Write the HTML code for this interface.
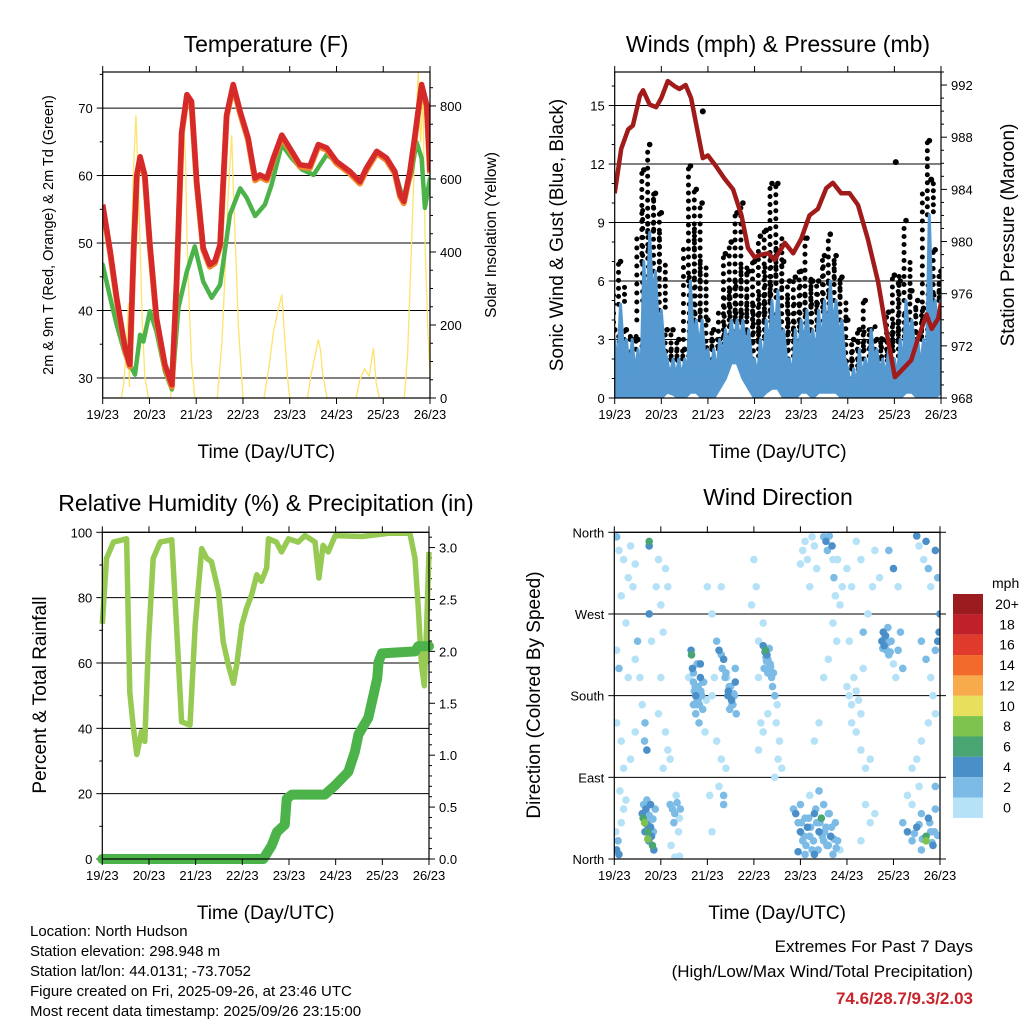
<!DOCTYPE html>
<html><head><meta charset="utf-8"><title>Station Meteogram</title>
<style>
html,body{margin:0;padding:0;background:#fff;}
svg{display:block;font-family:"Liberation Sans",Arial,sans-serif;}
</style></head>
<body>
<svg id="chart" width="1024" height="1024" viewBox="0 0 1024 1024" xmlns="http://www.w3.org/2000/svg">
<rect x="0" y="0" width="1024" height="1024" fill="#fff"/>
<g id="p1"></g>
<g id="p2"></g>
<g id="p3"></g>
<g id="p4"></g>
<g id="legend"></g>
<g font-size="15" fill="#000">
<text x="30" y="936">Location: North Hudson</text>
<text x="30" y="956">Station elevation: 298.948 m</text>
<text x="30" y="976">Station lat/lon: 44.0131; -73.7052</text>
<text x="30" y="996">Figure created on Fri, 2025-09-26, at 23:46 UTC</text>
<text x="30" y="1016">Most recent data timestamp: 2025/09/26 23:15:00</text>
</g>
<g text-anchor="end">
<text x="973" y="952" font-size="17">Extremes For Past 7 Days</text>
<text x="973" y="977" font-size="17">(High/Low/Max Wind/Total Precipitation)</text>
<text x="973" y="1004" font-size="17" font-weight="bold" fill="#c8242b">74.6/28.7/9.3/2.03</text>
</g>
</svg>
<script>
// ---------- DATA ----------
const dayLabels = ["19/23","20/23","21/23","22/23","23/23","24/23","25/23","26/23"];
const tempDays = [0,0.16,0.3,0.48,0.58,0.66,0.73,0.8,0.9,1.01,1.15,1.33,1.48,1.58,1.69,1.8,1.9,2.01,2.15,2.29,2.4,2.51,2.65,2.79,2.94,3.11,3.26,3.36,3.51,3.65,3.83,4.0,4.22,4.43,4.61,4.79,5.0,5.29,5.5,5.64,5.86,6.07,6.25,6.36,6.44,6.57,6.68,6.82,6.93,7.0];
const tempVals = [55.7,48.8,41.9,34.4,32,48.8,60.1,62.8,60.1,49.8,38.9,32,29,44.3,66.5,72,71,59.1,49.3,46.8,47.3,49.8,69,73.5,69.5,65.6,59.6,60.1,59.6,62.6,66,64.1,61.6,61.4,64.6,64.1,62.1,60.6,59.1,61.1,63.6,62.6,60.6,57.2,56.2,60.6,66,73.5,70.5,60.6];
const dewDays = [0,0.16,0.3,0.48,0.58,0.69,0.8,0.87,1.01,1.15,1.33,1.48,1.62,1.8,1.97,2.15,2.33,2.51,2.72,2.94,3.08,3.26,3.47,3.61,3.83,4.04,4.26,4.51,4.65,4.79,5.0,5.29,5.5,5.64,5.86,6.07,6.25,6.44,6.61,6.71,6.82,6.89,7.0];
const dewVals = [46.8,41.9,37.9,33.5,32,30.5,36.4,35.4,39.9,36.9,31,28.3,40.4,45.8,49.5,44.3,41.9,43.8,54.2,58.1,56.7,54,55.7,58.6,64.6,62.6,60.9,60.1,61.6,63.1,62.1,60.6,59.1,61.1,63.6,62.6,60.6,56.2,60.6,65,62.6,55.2,59.6];
const solarDays = [0,0.4,0.45,0.5,0.55,0.57,0.6,0.65,0.71,0.76,0.8,0.85,0.9,0.98,1.45,1.5,1.55,1.6,1.65,1.72,1.77,1.8,1.85,1.9,1.97,2.45,2.55,2.62,2.68,2.76,2.8,2.85,2.9,3.0,3.45,3.55,3.65,3.75,3.83,3.9,3.95,4.0,4.38,4.45,4.55,4.61,4.66,4.7,4.8,5.42,5.5,5.6,5.7,5.79,5.85,5.92,6.45,6.52,6.6,6.68,6.75,6.8,6.85,6.9,6.95,7.0];
const solarVals = [0,0,40,120,260,30,350,600,775,600,420,200,60,0,0,80,300,500,700,800,650,450,250,100,0,0,150,350,550,720,550,380,200,0,0,80,180,240,283,150,60,0,0,60,120,160,130,70,0,0,50,80,60,137,40,0,0,120,400,700,893,700,820,400,200,60];
const windHi = [3,4.8,3,3,2.5,7,8.5,6.5,4.5,2,2,2,2,6,4,4,2.5,2.5,3,3.5,4,4,4,3.5,2,3,4,5,5.5,3.5,2,3.5,4,4.5,3.5,4.5,5,6,5,4,1.5,1.5,2.5,2,3.5,2.5,2,2.5,2,3,5,4,3,3,9.4,5,5];
const windMid = [1.5,2.5,1.5,1.2,1,4,5,3.5,2.5,1,1,1,1,3,2.5,2,1.2,1.2,2,2.5,2.8,2.8,2.5,2,1,1.5,2.5,3,3,2,1,2,2.5,2.5,2,2.5,3,3.5,3,2,0.5,0.5,1,1,2,1.2,1,1.2,1,1.5,3,2.5,1.5,1.5,4,3,2.5];
const windLo = [0,0,0,0,0,0,0,0,0,0.3,0.2,0,0,0.3,0.3,0,0,0,0.5,1,1.8,1.8,1,0.5,0,0,0.3,0.5,0.5,0,0,0,0.3,0.3,0,0.3,0.3,0.3,0.3,0,0,0,0,0,0,0,0,0,0,0,0.3,0.3,0,0,0,0,0.3];
const gustVals = [3.5,7,3.5,3,3,11.7,13,10.5,9.5,3.5,3.5,3,2.5,11.9,10.7,10,4,3.5,3,7.4,8,9.5,10,6.5,7,8.3,8.6,11,11,7,6,6.2,6.5,8.2,6,6,7.3,8.4,7.3,6.2,4,3,3.5,5,3.5,3,3,4.4,6.3,6,9.1,5.5,5,4.6,13.2,7.6,6.5];
const gustOutDays = [1.89,6.03,6.79];
const gustOutVals = [14.7,12.1,11.2];
const presDays = [0,0.14,0.29,0.39,0.54,0.61,0.75,0.89,1.0,1.14,1.29,1.39,1.52,1.64,1.89,2.0,2.15,2.36,2.54,2.72,2.86,3.0,3.15,3.29,3.43,3.65,3.83,4.0,4.18,4.36,4.54,4.68,4.86,5.04,5.22,5.43,5.65,5.83,6.01,6.15,6.36,6.51,6.69,6.8,6.94,7.0];
const presVals = [983.7,987.1,988.6,988.9,991.2,991.6,990.5,990.3,991.0,992.3,991.9,991.7,992.0,991.0,986.4,986.6,985.9,984.8,984.0,982.0,979.5,978.8,979.0,979.1,978.6,979.9,979.1,980.2,982.0,982.5,984.1,984.5,983.7,983.7,982.8,980.2,976.9,973.1,969.6,970.1,970.9,972.6,974.4,973.3,974.1,975.3];
const rhDays = [0,0.09,0.24,0.52,0.59,0.66,0.74,0.84,0.91,0.99,1.09,1.24,1.49,1.59,1.7,1.88,1.99,2.13,2.24,2.34,2.49,2.59,2.7,2.81,2.88,2.99,3.09,3.2,3.31,3.41,3.52,3.56,3.73,3.84,3.99,4.2,4.34,4.56,4.64,4.73,4.84,4.99,5.56,6.13,6.59,6.7,6.77,6.84,6.9,6.95,7.0];
const rhVals = [72,92,97,98,51,41,32,39,36,66.5,92,97,97.7,71.6,42,41,71.6,95,92,91,81.8,66.5,59.4,53.8,59.4,71.6,76.7,80.8,87,85,89,98,97,94,98,97,99,97,86,96,94,99,98.7,99.7,99.7,92,76.7,59.4,53,71.6,94];
const prDays = [0,3.45,3.63,3.74,3.91,3.95,4.06,4.77,4.99,5.27,5.41,5.49,5.7,5.81,5.89,5.92,5.99,6.7,6.77,7.0];
const prVals = [0,0,0.13,0.26,0.33,0.58,0.62,0.62,0.71,0.84,1.03,1.2,1.36,1.58,1.74,1.9,1.98,2.0,2.05,2.05];
const dirDays = [0.6,0.62,0.65,0.68,0.7,0.72,0.75,0.78,0.8,0.82,0.85,0.63,0.7,0.88,0.72,0.66,0.78,0.84,
1.2,1.25,1.3,1.35,1.4,1.28,1.33,1.38,1.42,1.22,1.3,1.4,
0.05,0.08,0.1,0.15,0.2,0.25,0.03,0.12,
0.05,0.1,0.2,0.3,0.35,0.4,0.45,0.15,0.25,0.05,0.1,0.3,0.45,0.5,0.55,0.6,0.45,0.35,0.2,0.15,0.05,0.65,0.66,0.7,
0.75,0.75,0.75,0.8,0.9,0.95,1.0,1.05,1.1,1.15,1.0,0.95,1.1,1.15,1.05,1.2,
1.65,1.66,1.68,1.7,1.72,1.75,1.78,1.8,1.83,1.85,1.88,1.9,1.92,1.7,1.75,1.82,1.95,1.98,1.6,1.85,
2.2,2.25,2.3,2.35,2.32,2.4,2.45,2.5,2.52,2.55,2.58,2.6,2.62,2.48,2.42,2.15,2.1,2.2,2.3,2.4,2.25,2.35,2.35,2.1,2.05,2.0,2.1,2.3,
3.2,3.25,3.28,3.3,3.35,3.22,3.3,3.38,3.4,3.45,3.5,3.48,3.55,3.52,3.6,3.45,3.3,3.1,3.1,3.2,3.05,3.0,2.95,3.15,3.1,3.2,
3.85,3.9,3.95,4.0,4.05,4.1,4.15,4.2,4.25,4.3,4.35,4.4,4.45,4.5,4.55,4.6,4.65,4.7,4.75,4.8,4.85,4.0,4.2,4.4,4.1,3.95,4.3,4.6,4.5,
4.0,4.05,4.1,4.15,4.2,4.25,4.3,4.35,4.5,4.55,4.58,4.62,4.68,4.7,4.72,4.75,4.8,4.85,4.9,4.7,4.78,4.6,4.5,4.4,4.3,
5.0,5.05,5.1,5.15,5.2,5.25,5.3,5.35,5.1,5.2,5.3,5.4,5.5,5.4,5.5,5.3,5.6,5.0,5.1,5.2,5.3,5.45,5.55,5.6,5.05,5.35,
5.75,5.78,5.8,5.82,5.85,5.88,5.9,5.95,6.0,6.05,6.1,6.15,6.2,5.9,6.0,6.1,5.7,
6.2,6.3,6.4,6.5,6.6,6.7,6.7,6.75,6.8,6.85,6.9,6.6,6.4,6.3,6.55,6.9,
6.5,6.55,6.65,6.7,6.75,6.8,6.9,6.95,7.0,6.98,6.95,6.9,6.6,6.7,6.8,6.85,6.9,6.75,6.6,6.5,6.4,
0.72,0.76,0.8,0.68,0.74,0.83,1.7,1.74,1.78,1.8,1.86,1.9,1.76,2.38,2.44,2.47,2.53,2.57,2.6,3.24,3.27,3.33,3.36,3.42,3.26,
4.02,4.08,4.12,4.18,4.22,4.28,4.33,4.38,4.42,4.47,4.52,4.57,4.62,4.67,4.72,4.77,5.77,5.83,5.87,5.93,6.45,6.55,6.62,6.78,6.83,6.88,6.95];
const dirDegs = [50,45,40,55,38,30,48,35,25,15,10,60,65,55,22,30,60,30,
60,55,50,62,45,40,70,30,55,15,2,3,
10,20,5,40,55,65,30,75,
355,340,330,310,345,300,325,290,260,230,210,200,220,240,200,170,140,110,100,130,150,130,150,120,
350,345,270,240,300,330,280,250,320,300,200,160,140,120,100,110,
230,225,210,195,185,180,175,190,170,200,180,165,195,170,160,150,140,175,200,215,
240,230,225,220,210,205,185,190,175,170,180,195,160,165,200,200,180,130,110,100,80,60,70,30,70,300,270,300,
235,230,225,220,215,210,205,200,190,180,170,150,130,110,100,90,160,240,200,260,300,330,280,150,120,140,
55,50,40,30,20,45,35,25,10,50,40,30,45,20,35,15,25,5,40,20,10,60,70,75,5,8,5,50,60,
325,340,350,330,300,355,345,320,355,350,340,356,345,330,310,290,330,280,300,260,240,220,200,150,130,
190,180,170,200,185,175,160,210,150,140,120,100,110,60,40,20,50,320,300,350,330,270,300,340,240,250,
240,250,235,245,230,255,225,240,215,200,230,250,210,340,320,300,310,
40,30,20,35,50,25,20,45,30,15,55,10,60,70,80,80,
356,345,330,350,320,300,340,310,270,250,240,230,240,220,200,180,160,150,130,110,100,
42,36,28,52,20,44,205,190,215,175,185,195,170,200,180,190,170,182,210,228,218,232,212,205,222,
40,25,15,45,35,20,55,10,40,25,30,15,50,35,22,12,232,246,238,228,28,38,22,40,18,30,26];
const dirSpd = [4,6,8,4,4,6,2,4,4,6,4,2,2,2,8,4,4,2,
2,2,2,2,0,2,0,0,2,0,0,0,
4,2,4,0,0,0,0,0,
2,0,0,0,0,0,0,0,0,0,2,0,0,2,0,0,0,0,0,0,0,2,2,4,
6,4,4,0,0,0,0,0,0,0,0,0,0,0,0,0,
4,6,4,2,2,4,2,2,2,4,2,2,2,2,2,2,0,0,0,4,
2,4,2,4,2,2,4,2,4,2,2,4,2,2,0,0,0,0,0,0,0,2,2,0,0,0,0,0,
4,6,4,2,2,2,2,2,2,2,0,0,0,0,0,0,0,0,0,0,0,0,0,0,0,0,
2,4,2,4,2,2,4,2,2,4,2,4,6,2,2,2,4,2,2,2,0,2,0,2,2,4,4,2,2,
0,0,0,0,0,0,0,0,2,4,2,2,4,0,2,0,0,0,0,0,0,0,0,0,0,
0,0,0,0,0,0,0,0,0,0,0,0,0,0,0,0,0,0,0,0,0,0,0,0,0,2,
4,4,4,2,2,2,2,2,0,0,2,2,2,2,4,0,0,
2,4,2,4,2,6,8,4,2,4,2,2,0,0,0,2,
4,0,0,4,2,0,4,2,4,4,4,2,2,2,0,0,0,0,0,0,0,
2,2,2,2,4,2,2,2,2,2,2,2,2,2,4,2,2,2,2,4,2,2,2,2,2,
2,2,2,2,2,2,2,2,2,2,2,2,2,2,2,2,2,4,2,2,2,2,2,2,2,2,2];
const legendLabels = ["20+","18","16","14","12","10","8","6","4","2","0"];
const legendColors = ["#9b1b1f","#c0202a","#e03a2c","#f26a2c","#f7ab4a","#e8e05c","#7ec34e","#49a673","#4b8fc8","#7bbbe6","#b6e2f7"];
const speedClasses = [20,18,16,14,12,10,8,6,4,2,0];

// ---------- HELPERS ----------
const NS="http://www.w3.org/2000/svg";
function mk(parent,tag,attrs,text){const e=document.createElementNS(NS,tag);for(const k in attrs)e.setAttribute(k,attrs[k]);if(text!==undefined)e.textContent=text;parent.appendChild(e);return e;}
function lin(d0,d1,r0,r1){return v=>r0+(v-d0)*(r1-r0)/(d1-d0);}
function pts(xs,ys,sx,sy){return xs.map((d,i)=>sx(d).toFixed(1)+","+sy(ys[i]).toFixed(1)).join(" ");}

function frame(g,B,sx,xlabelY){
  dayLabels.forEach((lab,i)=>{
    const x=sx(i);
    const t1=mk(g,"line",{x1:x,y1:B.y1,x2:x,y2:B.y1+6,stroke:"#000","stroke-width":1});
    
    
    const t2=mk(g,"line",{x1:x,y1:B.y0,x2:x,y2:B.y0-6,stroke:"#000","stroke-width":1});
    
    
    const tl=mk(g,"text",{x:x,y:B.y1+21,"font-size":13,"text-anchor":"middle"},lab);
    
    
  });
  const xt=mk(g,"text",{x:(B.x0+B.x1)/2,y:xlabelY,"font-size":19,"text-anchor":"middle"},"Time (Day/UTC)");
  
  
}
function box(g,B){
  const r=mk(g,"rect",{x:B.x0,y:B.y0,width:B.x1-B.x0,height:B.y1-B.y0,fill:"none",stroke:"#000","stroke-width":1.2});
  
  
}
function yAxis(g,B,sy,ticks,labels,side,minor,grid){
  ticks.forEach((v,i)=>{
    const y=sy(v);
    if(grid){const gl=mk(g,"line",{x1:B.x0,y1:y,x2:B.x1,y2:y,stroke:"#000","stroke-width":1});
      
      }
    const x=side==="left"?B.x0:B.x1;
    const dx=side==="left"?-6:6;
    const tk=mk(g,"line",{x1:x,y1:y,x2:x+dx,y2:y,stroke:"#000","stroke-width":1});
    
    
    const tl=mk(g,"text",{x:side==="left"?x-10:x+10,y:y+5,"font-size":13,"text-anchor":side==="left"?"end":"start"},labels[i]);
    
    
  });
  (minor||[]).forEach(v=>{
    const y=sy(v);const x=side==="left"?B.x0:B.x1;const dx=side==="left"?-3:3;
    const mt=mk(g,"line",{x1:x,y1:y,x2:x+dx,y2:y,stroke:"#000","stroke-width":1});
    
    
  });
}
function title(g,x,y,txt,size){const t=mk(g,"text",{x:x,y:y,"font-size":size,"text-anchor":"middle"},txt);
  
  return t;}
function vtitle(g,x,y,txt,size,name){const t=mk(g,"text",{x:x,y:y,"font-size":size,"text-anchor":"middle",transform:`rotate(-90 ${x} ${y})`},txt);
  
  return t;}
function range(a,b,s){const r=[];for(let v=a;v<=b+1e-9;v+=s)r.push(+v.toFixed(4));return r;}

// ---------- PANEL 1 ----------
(function(){
  const g=document.getElementById("p1");
  const B={x0:102.7,x1:430,y0:72,y1:398};
  const sx=lin(0,7,B.x0,B.x1), sy=lin(27.03,75.35,B.y1,B.y0), sy2=lin(0,893,B.y1,B.y0);
  const cp=mk(g,"clipPath",{id:"c1"});mk(cp,"rect",{x:B.x0,y:B.y0,width:B.x1-B.x0,height:B.y1-B.y0});
  yAxis(g,B,sy,[30,40,50,60,70],["30","40","50","60","70"],"left",range(35,75,10),true);
  yAxis(g,B,sy2,[0,200,400,600,800],["0","200","400","600","800"],"right",range(50,850,50).filter(v=>v%200),false);
  const pg=mk(g,"g",{"clip-path":"url(#c1)"});
  const sol=mk(pg,"polyline",{points:pts(solarDays,solarVals,sx,sy2),fill:"none",stroke:"#fde36a","stroke-width":1.3});
  
  
  const dw=mk(pg,"polyline",{points:pts(dewDays,dewVals,sx,sy),fill:"none",stroke:"#4bb34a","stroke-width":4.5,"stroke-linejoin":"round","stroke-linecap":"round"});
  
  
  const t9=mk(pg,"polyline",{points:pts(tempDays,tempVals,sx,sy),fill:"none",stroke:"#f08a2c","stroke-width":6,"stroke-linejoin":"round",transform:"translate(0,2)"});
  
  
  const t2=mk(pg,"polyline",{points:pts(tempDays,tempVals,sx,sy),fill:"none",stroke:"#d62a2a","stroke-width":5.5,"stroke-linejoin":"round"});
  
  
  box(g,B);
  frame(g,B,sx,458);
  title(g,266,52,"Temperature (F)",23);
  vtitle(g,53,235,"2m & 9m T (Red, Orange) & 2m Td (Green)",14.5,'y-axis-title');
  vtitle(g,496,235,"Solar Insolation (Yellow)",15.5,'y2-axis-title');
})();

// ---------- PANEL 2 ----------
(function(){
  const g=document.getElementById("p2");
  const B={x0:614.7,x1:941,y0:72,y1:398};
  const sx=lin(0,7,B.x0,B.x1), sy=lin(0,16.72,B.y1,B.y0), sy2=lin(968,993,B.y1,B.y0);
  const cp=mk(g,"clipPath",{id:"c2"});mk(cp,"rect",{x:B.x0,y:B.y0-4,width:B.x1-B.x0,height:B.y1-B.y0+4});
  yAxis(g,B,sy,[0,3,6,9,12,15],["0","3","6","9","12","15"],"left",range(1,16,1).filter(v=>v%3),true);
  yAxis(g,B,sy2,[968,972,976,980,984,988,992],["968","972","976","980","984","988","992"],"right",range(969,993,1).filter(v=>v%4),false);
  const pg=mk(g,"g",{"clip-path":"url(#c2)"});
  const n=windHi.length; const days=windHi.map((_,i)=>i*7/(n-1));
  gustVals.forEach((gv,i)=>{
    const x=sx(days[i]);
    const c=mk(pg,"line",{x1:x-2,y1:sy(windHi[i]),x2:x-2,y2:sy(gv),stroke:"#000","stroke-width":5,"stroke-linecap":"round","stroke-dasharray":"0 8"});
    
    
    const c2=mk(pg,"line",{x1:x+4,y1:sy(windHi[i])-3,x2:x+4,y2:sy((gv+windHi[i])/2),stroke:"#000","stroke-width":5,"stroke-linecap":"round","stroke-dasharray":"0 7"});
    
    
    const c3=mk(pg,"line",{x1:x-7,y1:sy(windMid[i]),x2:x-7,y2:sy((gv+2*windHi[i])/3),stroke:"#000","stroke-width":5,"stroke-linecap":"round","stroke-dasharray":"0 9"});
    
    
    const d=mk(pg,"circle",{cx:x,cy:sy(gv),r:2.8,fill:"#000"});
    
    
  });
  gustOutDays.forEach((d,i)=>{
    const c=mk(pg,"circle",{cx:sx(d),cy:sy(gustOutVals[i]),r:3,fill:"#000"});
    
    
  });
  // jagged wind trace alternating between hi and mid
  const jx=[],jy=[];
  days.forEach((d,i)=>{jx.push(d);jy.push(windHi[i]);if(i<n-1){jx.push(d+7/(n-1)/2);jy.push(windMid[i]);}});
  const up=pts(jx,jy,sx,sy);
  const dn=days.map((d,i)=>sx(d).toFixed(1)+","+sy(windLo[i]).toFixed(1)).reverse().join(" ");
  const band=mk(pg,"polygon",{points:up+" "+dn,fill:"#5599d0",stroke:"#5599d0","stroke-width":3,"stroke-linejoin":"round"});
  
  
  const pr=mk(pg,"polyline",{points:pts(presDays,presVals,sx,sy2),fill:"none",stroke:"#a11b1b","stroke-width":4.5,"stroke-linejoin":"round"});
  
  
  box(g,B);
  frame(g,B,sx,458);
  title(g,778,52,"Winds (mph) & Pressure (mb)",23);
  vtitle(g,563,235,"Sonic Wind & Gust (Blue, Black)",19,'y-axis-title');
  vtitle(g,1014,235,"Station Pressure (Maroon)",19,'y2-axis-title');
})();

// ---------- PANEL 3 ----------
(function(){
  const g=document.getElementById("p3");
  const B={x0:102.3,x1:429,y0:532.3,y1:859};
  const sx=lin(0,7,B.x0,B.x1), sy=lin(0,100,B.y1,B.y0), sy2=lin(0,3.147,B.y1,B.y0);
  const cp=mk(g,"clipPath",{id:"c3"});mk(cp,"rect",{x:B.x0-6,y:B.y0,width:B.x1-B.x0+12,height:B.y1-B.y0+6});
  yAxis(g,B,sy,[0,20,40,60,80,100],["0","20","40","60","80","100"],"left",range(10,90,20),true);
  yAxis(g,B,sy2,[0,0.5,1,1.5,2,2.5,3],["0.0","0.5","1.0","1.5","2.0","2.5","3.0"],"right",range(0.1,3.1,0.1).filter(v=>Math.abs(v*2-Math.round(v*2))>0.01),false);
  const pg=mk(g,"g",{"clip-path":"url(#c3)"});
  const rh=mk(pg,"polyline",{points:pts(rhDays,rhVals,sx,sy),fill:"none",stroke:"#96ca52","stroke-width":5.5,"stroke-linejoin":"round"});
  
  
  const pr=mk(pg,"polyline",{points:pts(prDays,prVals,sx,sy2),fill:"none",stroke:"#4cb34a","stroke-width":10,"stroke-linejoin":"round","stroke-linecap":"round"});
  
  
  box(g,B);
  frame(g,B,sx,919);
  title(g,266,511,"Relative Humidity (%) & Precipitation (in)",23);
  vtitle(g,46,695,"Percent & Total Rainfall",19,'y-axis-title');
})();

// ---------- PANEL 4 ----------
(function(){
  const g=document.getElementById("p4");
  const B={x0:614.3,x1:940,y0:532.3,y1:859};
  const sx=lin(0,7,B.x0,B.x1), sy=lin(0,360,B.y1,B.y0);
  const cp=mk(g,"clipPath",{id:"c4"});mk(cp,"rect",{x:B.x0,y:B.y0,width:B.x1-B.x0,height:B.y1-B.y0});
  yAxis(g,B,sy,[0,90,180,270,360],["North","East","South","West","North"],"left",[],true);
  [0,90,180,270,360].forEach(v=>{const t=mk(g,"line",{x1:B.x1,y1:sy(v),x2:B.x1+6,y2:sy(v),stroke:"#000"});
    
    });
  const pg=mk(g,"g",{"clip-path":"url(#c4)"});
  const order=dirSpd.map((s,i)=>i).sort((a,b)=>dirSpd[a]-dirSpd[b]);
  order.forEach(i=>{
    const ci=speedClasses.indexOf(dirSpd[i]);
    const c=mk(pg,"circle",{cx:sx(dirDays[i]),cy:sy(dirDegs[i]),r:3.8,fill:legendColors[ci]});
    
    
  });
  box(g,B);
  frame(g,B,sx,919);
  title(g,778,505,"Wind Direction",23);
  vtitle(g,540,695,"Direction (Colored By Speed)",19,'y-axis-title');
})();

// ---------- LEGEND ----------
(function(){
  const g=document.getElementById("legend");
  const u=mk(g,"text",{x:992,y:588,"font-size":14},"mph");
  
  
  legendLabels.forEach((lab,i)=>{
    const y=594+i*20.35;
    const r=mk(g,"rect",{x:953,y:y,width:30,height:20.4,fill:legendColors[i]});
    
    
    const t=mk(g,"text",{x:1007,y:y+15,"font-size":14,"text-anchor":"middle"},lab);
    
    
  });
})();
</script>
</body></html>
